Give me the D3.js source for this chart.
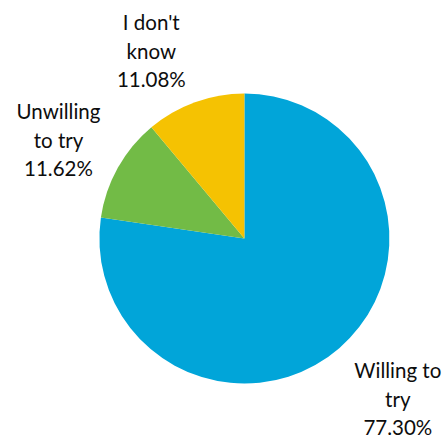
<!DOCTYPE html>
<html>
<head>
<meta charset="utf-8">
<script src="https://cdn.jsdelivr.net/npm/d3@7"></script>
<style>
  html, body { margin: 0; padding: 0; background: #fff; }
  svg { display: block; }
  text { font-family: Lato, "Open Sans", sans-serif; fill: #0d0d0d; }
</style>
</head>
<body>
<svg id="chart" width="443" height="438"></svg>
<script>
const categories = ["Willing to try", "Unwilling to try", "I don't know"];
const values = [77.30, 11.62, 11.08];
const labelLines = [["Willing to", "try"], ["Unwilling", "to try"], ["I don't", "know"]];
const colors = ["#01A5D9", "#72BB46", "#F5C202"];

// layout
const W = 443, H = 438;
const cx = 244.4, cy = 238.5, R = 145;
const labelAnchors = [[397.8, 378.3], [58.5, 119], [151.3, 30]]; // first-line baseline
const lineGap = 28.5;
const fontSize = 20.5;

const svg = d3.select("#chart");
const data = categories.map((c, i) => ({ cat: c, value: values[i], lines: labelLines[i], color: colors[i], anchor: labelAnchors[i] }));

const pie = d3.pie().sort(null).value(d => d.value);
const arc = d3.arc().innerRadius(0).outerRadius(R);

const g = svg.append("g").attr("transform", `translate(${cx},${cy})`);
g.selectAll("path")
  .data(pie(data))
  .join("path")
  .attr("d", arc)
  .attr("fill", d => d.data.color);

const fmt = d3.format(".2f");
const lab = svg.append("g");
data.forEach(d => {
  const t = lab.append("text")
    .attr("text-anchor", "middle")
    .attr("font-size", fontSize)
    .attr("x", d.anchor[0])
    .attr("y", d.anchor[1]);
  const lines = d.lines.concat([fmt(d.value) + "%"]);
  lines.forEach((ln, i) => {
    t.append("tspan")
      .attr("x", d.anchor[0])
      .attr("y", d.anchor[1] + i * lineGap)
      .text(ln);
  });
});
</script>
</body>
</html>
